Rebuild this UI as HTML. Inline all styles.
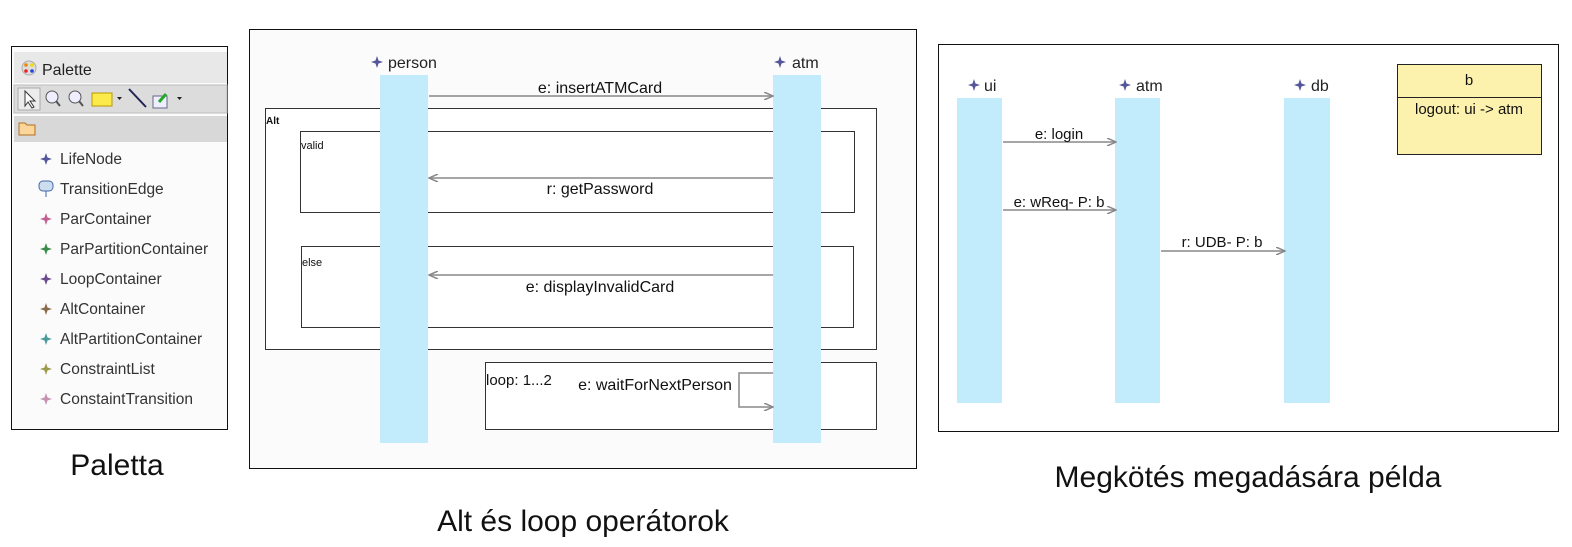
<!DOCTYPE html>
<html><head><meta charset="utf-8"><style>
html,body{margin:0;padding:0;background:#fff;}
svg{display:block;font-family:"Liberation Sans","DejaVu Sans",sans-serif;}
</style></head><body>
<svg width="1572" height="547" viewBox="0 0 1572 547" xmlns="http://www.w3.org/2000/svg">
<defs>
<marker id="ar" markerWidth="10" markerHeight="8" refX="9" refY="4" orient="auto" markerUnits="userSpaceOnUse">
<path d="M0,0 L9,4 L0,8" fill="none" stroke="#888" stroke-width="1.5"/></marker>
<g id="dia"><path d="M0,-6 L1.5,-1.5 L6,0 L1.5,1.5 L0,6 L-1.5,1.5 L-6,0 L-1.5,-1.5Z"/></g>
</defs>
<!-- Palette -->
<rect x="11.5" y="46.5" width="216" height="383" fill="#fbfbfb" stroke="#111"/>
<rect x="14" y="52" width="213" height="31" fill="#e8e8e8"/>
<circle cx="29" cy="68" r="7" fill="#ddd" stroke="#aaa"/>
<circle cx="26" cy="65" r="1.8" fill="#e80"/><circle cx="32" cy="65" r="1.8" fill="#ed0"/>
<circle cx="26" cy="71" r="1.8" fill="#e22"/><circle cx="32" cy="71" r="1.8" fill="#24d"/>
<text x="42" y="75" font-size="16" fill="#222">Palette</text>
<rect x="14" y="85" width="213" height="28" fill="#dcdcdc" stroke="#bbb"/>
<rect x="18" y="88" width="22" height="22" fill="#ececec" stroke="#aaa"/>
<path d="M25,91 L25,106 L28,102 L32,108 L34,107 L30,101 L35,101Z" fill="#fff" stroke="#333"/>
<circle cx="52" cy="97" r="6" fill="#eef" stroke="#555"/><line x1="56" y1="101" x2="60" y2="106" stroke="#555" stroke-width="2"/>
<circle cx="75" cy="97" r="6" fill="#eef" stroke="#555"/><line x1="79" y1="101" x2="83" y2="106" stroke="#555" stroke-width="2"/>
<rect x="92" y="93" width="20" height="13" fill="#fbea4a" stroke="#b90"/>
<path d="M117,97 l5,0 l-2.5,3z" fill="#222"/>
<line x1="129" y1="89" x2="146" y2="107" stroke="#225" stroke-width="2"/>
<rect x="153" y="96" width="14" height="12" fill="#eef" stroke="#668"/>
<path d="M159,102 l7,-8" stroke="#2a2" stroke-width="3"/>
<path d="M177,97 l5,0 l-2.5,3z" fill="#222"/>
<rect x="14" y="116" width="213" height="26" fill="#d8d8d8"/>
<path d="M19,123 h6 l2,2 h8 v10 h-16z" fill="#fbd59a" stroke="#b07020"/>
<g font-size="15.5" fill="#333">
<use href="#dia" x="46" y="159" fill="#55559a"/><text x="60" y="164">LifeNode</text>
<rect x="39" y="181" width="14" height="10" rx="4" fill="#cde" stroke="#46a"/><line x1="46" y1="191" x2="46" y2="197" stroke="#46a"/>
<text x="60" y="194">TransitionEdge</text>
<use href="#dia" x="46" y="219" fill="#c06090"/><text x="60" y="224">ParContainer</text>
<use href="#dia" x="46" y="249" fill="#3a8a4a"/><text x="60" y="254">ParPartitionContainer</text>
<use href="#dia" x="46" y="279" fill="#6a4a8a"/><text x="60" y="284">LoopContainer</text>
<use href="#dia" x="46" y="309" fill="#8a6a4a"/><text x="60" y="314">AltContainer</text>
<use href="#dia" x="46" y="339" fill="#4a9a9a"/><text x="60" y="344">AltPartitionContainer</text>
<use href="#dia" x="46" y="369" fill="#9a9a4a"/><text x="60" y="374">ConstraintList</text>
<use href="#dia" x="46" y="399" fill="#c890b0"/><text x="60" y="404">ConstaintTransition</text>
</g>
<text x="117" y="475" font-size="30" text-anchor="middle" fill="#111">Paletta</text>

<!-- Middle -->
<rect x="249.5" y="29.5" width="667" height="439" fill="#fbfbfb" stroke="#111"/>
<rect x="265.5" y="108.5" width="611" height="241" fill="#fff" stroke="#333"/>
<text x="266" y="124" font-size="10" font-weight="bold" fill="#111">Alt</text>
<rect x="300.5" y="131.5" width="554" height="81" fill="#fff" stroke="#333"/>
<text x="301" y="149" font-size="11" fill="#111">valid</text>
<rect x="301.5" y="246.5" width="552" height="81" fill="#fff" stroke="#333"/>
<text x="302" y="266" font-size="11" fill="#111">else</text>
<rect x="485.5" y="362.5" width="391" height="67" fill="#fff" stroke="#333"/>
<text x="486" y="385" font-size="15" fill="#111">loop: 1...2</text>
<rect x="380" y="75" width="48" height="368" fill="#c2ecfb"/>
<rect x="773" y="75" width="48" height="368" fill="#c2ecfb"/>
<use href="#dia" x="377" y="62" fill="#55559a"/>
<text x="388" y="68" font-size="16" fill="#222">person</text>
<use href="#dia" x="780" y="62" fill="#55559a"/>
<text x="792" y="68" font-size="16" fill="#222">atm</text>
<line x1="429" y1="96" x2="773" y2="96" stroke="#888" stroke-width="1.5" marker-end="url(#ar)"/>
<text x="600" y="93" font-size="16" text-anchor="middle" fill="#111">e: insertATMCard</text>
<line x1="773" y1="178" x2="429" y2="178" stroke="#888" stroke-width="1.5" marker-end="url(#ar)"/>
<text x="600" y="194" font-size="16" text-anchor="middle" fill="#111">r: getPassword</text>
<line x1="773" y1="275" x2="429" y2="275" stroke="#888" stroke-width="1.5" marker-end="url(#ar)"/>
<text x="600" y="292" font-size="16" text-anchor="middle" fill="#111">e: displayInvalidCard</text>
<path d="M773,373 H739 V407 H773" fill="none" stroke="#888" stroke-width="1.5" marker-end="url(#ar)"/>
<text x="655" y="390" font-size="16" text-anchor="middle" fill="#111">e: waitForNextPerson</text>
<text x="583" y="531" font-size="30" text-anchor="middle" fill="#111">Alt és loop operátorok</text>

<!-- Right -->
<rect x="938.5" y="44.5" width="620" height="387" fill="#fff" stroke="#111"/>
<rect x="957" y="98" width="45" height="305" fill="#c2ecfb"/>
<rect x="1115" y="98" width="45" height="305" fill="#c2ecfb"/>
<rect x="1284" y="98" width="46" height="305" fill="#c2ecfb"/>
<use href="#dia" x="974" y="85" fill="#55559a"/><text x="984" y="91" font-size="16" fill="#222">ui</text>
<use href="#dia" x="1125" y="85" fill="#55559a"/><text x="1136" y="91" font-size="16" fill="#222">atm</text>
<use href="#dia" x="1300" y="85" fill="#55559a"/><text x="1311" y="91" font-size="16" fill="#222">db</text>
<line x1="1003" y1="142" x2="1116" y2="142" stroke="#888" stroke-width="1.5" marker-end="url(#ar)"/>
<text x="1059" y="139" font-size="15" text-anchor="middle" fill="#111">e: login</text>
<line x1="1003" y1="210" x2="1116" y2="210" stroke="#888" stroke-width="1.5" marker-end="url(#ar)"/>
<text x="1059" y="207" font-size="15" text-anchor="middle" fill="#111">e: wReq- P: b</text>
<line x1="1161" y1="251" x2="1285" y2="251" stroke="#888" stroke-width="1.5" marker-end="url(#ar)"/>
<text x="1222" y="247" font-size="15" text-anchor="middle" fill="#111">r: UDB- P: b</text>
<rect x="1397.5" y="64.5" width="144" height="90" fill="#fdf2ad" stroke="#222"/>
<line x1="1398" y1="97.5" x2="1541" y2="97.5" stroke="#222"/>
<text x="1469" y="85" font-size="15" text-anchor="middle" fill="#111">b</text>
<text x="1469" y="114" font-size="15" text-anchor="middle" fill="#111">logout: ui -&gt; atm</text>
<text x="1248" y="487" font-size="30" text-anchor="middle" fill="#111">Megkötés megadására példa</text>
</svg>
</body></html>
